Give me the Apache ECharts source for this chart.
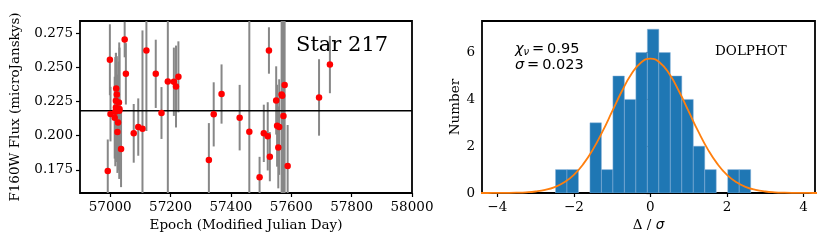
<!DOCTYPE html>
<html><head><meta charset="utf-8">
<script src="https://cdn.jsdelivr.net/npm/echarts@6/dist/echarts.min.js"></script>
<style>html,body{margin:0;padding:0;background:#fff}#c{width:830px;height:249px}</style>
</head><body><div id="c"></div>
<script>
// ---- Left panel: light curve ----
const epochs = [56992,56999,57001,57015,57020,57022,57019,57029,57019,57031,57030,57026,57024,57036,57048,57052,57078,57093,57107,57120,57151,57170,57191,57211,57218,57226,57327,57343,57369,57429,57461,57495,57509,57522,57529,57526,57550,57553,57560,57557,57568,57570,57574,57578,57588,57692,57728,57017];
const fluxes = [0.1742,0.2556,0.2158,0.2132,0.2346,0.2302,0.2256,0.2243,0.2207,0.2195,0.2183,0.2097,0.2027,0.1903,0.2704,0.2453,0.2017,0.2063,0.2051,0.2624,0.2453,0.2166,0.2397,0.2395,0.2360,0.2431,0.1822,0.2156,0.2305,0.2132,0.2029,0.1695,0.2017,0.1995,0.1846,0.2624,0.2258,0.2073,0.2063,0.1914,0.2302,0.2292,0.2144,0.2371,0.1778,0.2280,0.2521,0.2176];
const fluxErrs = [0.023,0.026,0.020,0.030,0.022,0.028,0.035,0.030,0.040,0.045,0.050,0.035,0.030,0.028,0.013,0.0225,0.0215,0.021,0.072,0.059,0.025,0.019,0.09,0.025,0.030,0.026,0.027,0.0235,0.0217,0.024,0.10,0.015,0.021,0.025,0.018,0.017,0.025,0.030,0.035,0.030,0.10,0.10,0.10,0.10,0.030,0.028,0.021,0.040];
const meanFlux = 0.2183;
const epochTicks = [57000,57200,57400,57600,57800,58000];
const fluxTicks = [0.175,0.200,0.225,0.250,0.275];
const starLabel = 'Star 217';

// ---- Right panel: histogram ----
const binEdges = [-2.48,-2.18,-1.88,-1.58,-1.28,-0.98,-0.68,-0.38,-0.08,0.22,0.52,0.82,1.12,1.42,1.72,2.02,2.32,2.62];
const binCounts = [1,1,0,3,1,5,4,6,7,6,5,4,2,1,0,1,1];
const curveX = [-4.5,-4.25,-4,-3.75,-3.5,-3.25,-3,-2.75,-2.5,-2.25,-2,-1.75,-1.5,-1.25,-1,-0.75,-0.5,-0.25,0,0.25,0.5,0.75,1,1.25,1.5,1.75,2,2.25,2.5,2.75,3,3.25,3.5,3.75,4,4.25,4.5];
const curveY = [0.0,0.001,0.002,0.005,0.013,0.029,0.064,0.131,0.252,0.457,0.777,1.243,1.865,2.630,3.484,4.336,5.070,5.568,5.745,5.568,5.070,4.336,3.484,2.630,1.865,1.243,0.777,0.457,0.252,0.131,0.064,0.029,0.013,0.005,0.002,0.001,0.0];
const deltaTicks = [-4,-2,0,2,4];
const numberTicks = [0,2,4,6];

const SERIF = 'DejaVu Serif';
const chart = echarts.init(document.getElementById('c'), null, {renderer:'canvas'});
const minus = v => (v < 0 ? '\u2212' + Math.abs(v) : String(v));
const tickStyle = {show:true, inside:false, length:4, lineStyle:{color:'#000', width:1.2}};
const lbl = {color:'#000', fontFamily:SERIF, fontSize:13.5, margin:7};

const errData = epochs.map((e,i)=>[e, fluxes[i], fluxErrs[i]]);
const ptData = epochs.map((e,i)=>[e, fluxes[i]]);
const histData = binCounts.map((c,i)=>[binEdges[i], binEdges[i+1], c]);
const curveData = curveX.map((x,i)=>[x, curveY[i]]);

chart.setOption({
  animation:false,
  grid:[
    {left:80, top:21, width:332, height:172, show:true, borderColor:'#000', borderWidth:1.8, backgroundColor:'transparent', containLabel:false},
    {left:482, top:21, width:333, height:172, show:true, borderColor:'#000', borderWidth:1.8, backgroundColor:'transparent', containLabel:false}
  ],
  xAxis:[
    {type:'value', gridIndex:0, min:56900, max:58000, splitLine:{show:false}, axisLine:{show:false},
     axisTick:Object.assign({customValues:epochTicks}, tickStyle),
     axisLabel:Object.assign({customValues:epochTicks, formatter:v=>String(v)}, lbl),
     name:'Epoch (Modified Julian Day)', nameLocation:'middle', nameGap:24,
     nameTextStyle:{color:'#000', fontFamily:SERIF, fontSize:13.5}},
    {type:'value', gridIndex:1, min:-4.4, max:4.3, splitLine:{show:false}, axisLine:{show:false},
     axisTick:Object.assign({customValues:deltaTicks}, tickStyle),
     axisLabel:Object.assign({customValues:deltaTicks, formatter:minus}, lbl),
     name:'{a|\u0394 / }{b|\u03c3}', nameLocation:'middle', nameGap:24,
     nameTextStyle:{color:'#000', fontFamily:SERIF, fontSize:13.5,
       rich:{a:{fontFamily:SERIF, fontSize:13.5, color:'#000'}, b:{fontFamily:'DejaVu Sans', fontStyle:'italic', fontSize:13.5, color:'#000'}}}}
  ],
  yAxis:[
    {type:'value', gridIndex:0, min:0.158, max:0.284, splitLine:{show:false}, axisLine:{show:false},
     axisTick:Object.assign({customValues:fluxTicks}, tickStyle),
     axisLabel:Object.assign({customValues:fluxTicks, formatter:v=>v.toFixed(3)}, lbl),
     name:'F160W Flux (microJanskys)', nameLocation:'middle', nameGap:58, nameRotate:90,
     nameTextStyle:{color:'#000', fontFamily:SERIF, fontSize:13.5}},
    {type:'value', gridIndex:1, min:0, max:7.35, splitLine:{show:false}, axisLine:{show:false},
     axisTick:Object.assign({customValues:numberTicks}, tickStyle),
     axisLabel:Object.assign({customValues:numberTicks, formatter:v=>String(v)}, lbl),
     name:'Number', nameLocation:'middle', nameGap:20, nameRotate:90,
     nameTextStyle:{color:'#000', fontFamily:SERIF, fontSize:13.5}}
  ],
  series:[
    {type:'custom', xAxisIndex:0, yAxisIndex:0, data:errData, clip:true, z:2,
     renderItem:function(params, api){
       const cs = params.coordSys;
       const x = api.value(0), f = api.value(1), e = api.value(2);
       const t = api.coord([x, f+e]), b = api.coord([x, f-e]);
       const y1 = Math.max(cs.y, t[1]), y2 = Math.min(cs.y+cs.height, b[1]);
       return {type:'line', shape:{x1:t[0], y1:y1, x2:b[0], y2:y2}, style:{stroke:'#878787', lineWidth:2}};
     }},
    {type:'line', xAxisIndex:0, yAxisIndex:0, data:[[56900, meanFlux],[58000, meanFlux]], symbol:'none',
     lineStyle:{color:'#000', width:1.6}, z:3, silent:true},
    {type:'scatter', xAxisIndex:0, yAxisIndex:0, data:ptData, symbol:'circle', symbolSize:6.5,
     itemStyle:{color:'#ff0000', opacity:1}, z:4},
    {type:'custom', xAxisIndex:1, yAxisIndex:1, data:histData, clip:true, z:2,
     renderItem:function(params, api){
       const c = api.value(2);
       if (!c) return null;
       const p0 = api.coord([api.value(0), c]), p1 = api.coord([api.value(1), 0]);
       return {type:'rect', shape:{x:p0[0], y:p0[1], width:p1[0]-p0[0], height:p1[1]-p0[1]},
               style:{fill:'#1f77b4', stroke:'rgba(140,180,220,0.8)', lineWidth:0.6}};
     }},
    {type:'line', xAxisIndex:1, yAxisIndex:1, data:curveData, symbol:'none', smooth:true,
     lineStyle:{color:'#ff7f0e', width:1.8}, z:3, clip:true}
  ],
  graphic:[
    {type:'text', left:296, top:35, style:{text:starLabel, font:'21px "DejaVu Serif"', fill:'#000'}},
    {type:'text', left:715, top:44, style:{text:'DOLPHOT', font:'13.5px "DejaVu Serif"', fill:'#000'}},
    {type:'text', left:515, top:42, style:{text:'{c|\u03c7}{s|\u03bd}{n|\u2009=\u20090.95}',
      rich:{c:{fontFamily:'DejaVu Sans', fontStyle:'italic', fontSize:14.5, fill:'#000', verticalAlign:'middle'},
            s:{fontFamily:'DejaVu Sans', fontStyle:'italic', fontSize:10, fill:'#000', verticalAlign:'bottom', padding:[6,0,0,0]},
            n:{fontFamily:'DejaVu Sans', fontSize:14.5, fill:'#000', verticalAlign:'middle'}}}},
    {type:'text', left:515, top:58, style:{text:'{c|\u03c3}{n|\u2009=\u20090.023}',
      rich:{c:{fontFamily:'DejaVu Sans', fontStyle:'italic', fontSize:14.5, fill:'#000'},
            n:{fontFamily:'DejaVu Sans', fontSize:14.5, fill:'#000'}}}}
  ]
});
</script></body></html>
